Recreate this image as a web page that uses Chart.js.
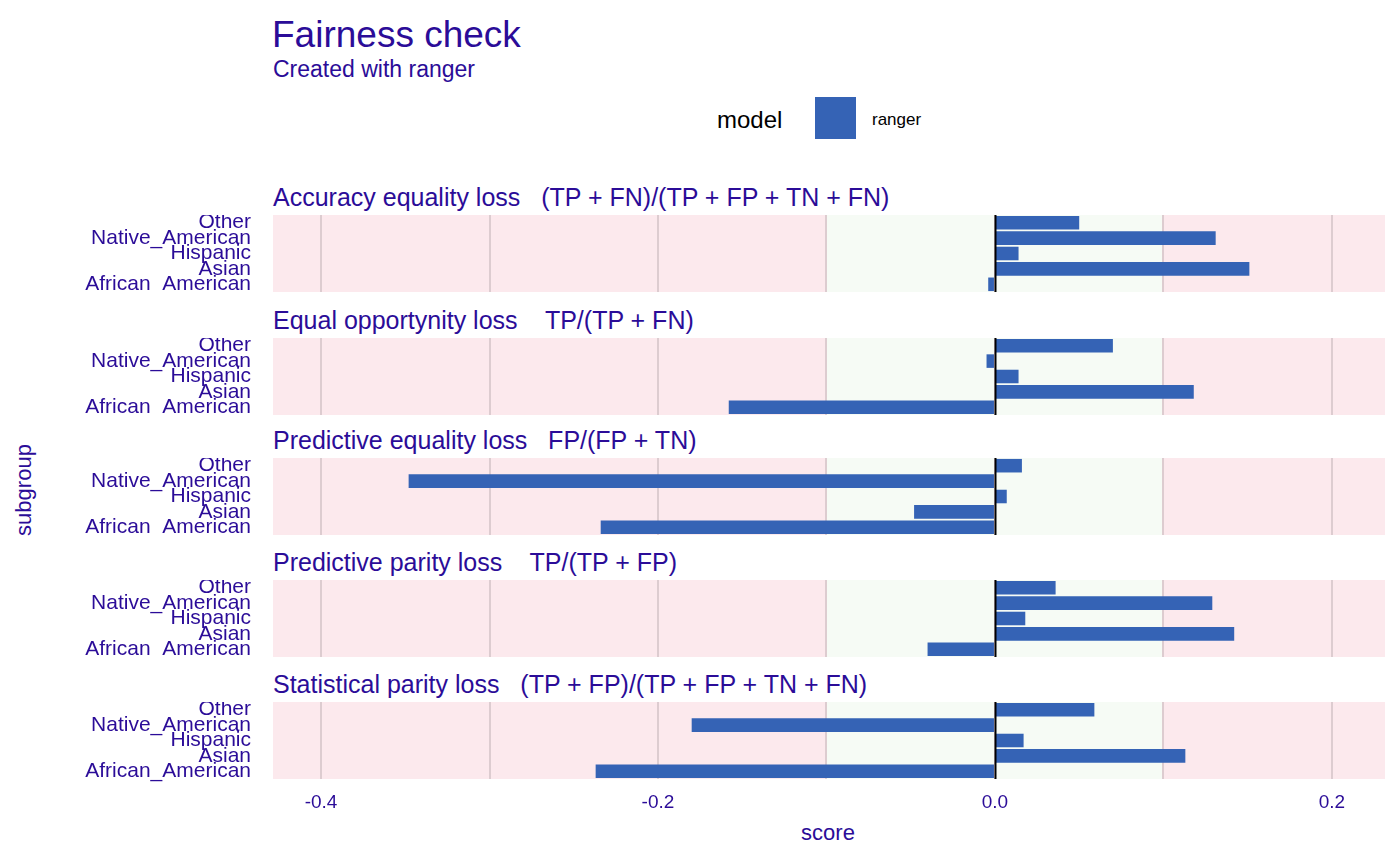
<!DOCTYPE html>
<html><head><meta charset="utf-8">
<script src="https://cdn.jsdelivr.net/npm/chart.js@4/dist/chart.umd.min.js"></script>
<style>
body{margin:0;background:#fff;font-family:"Liberation Sans",Arial,sans-serif;color:#2b0c98}
#wrap{position:relative;width:1400px;height:865px;overflow:hidden}
.t{position:absolute;white-space:pre}
canvas{position:absolute;left:0}
</style></head><body>
<div id="wrap">
  <div class="t" style="left:272px;top:14px;font-size:37px">Fairness check</div>
  <div class="t" style="left:273px;top:56px;font-size:23px">Created with ranger</div>
  <div class="t" style="left:717px;top:106px;font-size:24px;color:#000">model</div>
  <div class="t" style="left:815px;top:97px;width:41px;height:42px;background:#3563b5"></div>
  <div class="t" style="left:872px;top:110px;font-size:17px;color:#000">ranger</div>
  <div class="t" style="left:4px;top:490px;font-size:22px;transform:translate(0,-50%) rotate(-90deg);transform-origin:center;width:100px;text-align:center;margin-left:-30px">subgroup</div>
  <div class="t" style="left:828px;top:820px;font-size:22px;transform:translateX(-50%)">score</div>
</div>
<script>
// ── DATA ──
const subgroups = ['Other', 'Native_American', 'Hispanic', 'Asian', 'African_American'];
const metricTitles = [
  'Accuracy equality loss   (TP + FN)/(TP + FP + TN + FN)',
  'Equal opportynity loss    TP/(TP + FN)',
  'Predictive equality loss   FP/(FP + TN)',
  'Predictive parity loss    TP/(TP + FP)',
  'Statistical parity loss   (TP + FP)/(TP + FP + TN + FN)'
];
const accuracyLoss   = [0.050, 0.131, 0.014, 0.151, -0.004];
const opportunityLoss = [0.070, -0.005, 0.014, 0.118, -0.158];
const equalityLoss   = [0.016, -0.348, 0.007, -0.048, -0.234];
const parityLoss     = [0.036, 0.129, 0.018, 0.142, -0.040];
const statParityLoss = [0.059, -0.180, 0.017, 0.113, -0.237];
const tickValues = [-0.4, -0.2, 0.0, 0.2];

const allSeries = [accuracyLoss, opportunityLoss, equalityLoss, parityLoss, statParityLoss];
const panelTops = [215, 338, 458, 580, 702];
const panelH = 77;
const TXT = '#2b0c98';

// ── BACKGROUND BANDS ──
const bands = {
  id: 'bands',
  beforeDraw(chart) {
    const {ctx, chartArea: a, scales: {x}} = chart;
    const l = x.getPixelForValue(-0.1), r = x.getPixelForValue(0.1);
    ctx.save();
    ctx.fillStyle = '#fce9ed';
    ctx.fillRect(a.left, a.top, a.right - a.left, a.bottom - a.top);
    ctx.fillStyle = '#f6fbf5';
    ctx.fillRect(l, a.top, r - l, a.bottom - a.top);
    ctx.restore();
  }
};
const zeroLine = {
  id: 'zeroLine',
  afterDatasetsDraw(chart) {
    const {ctx, chartArea: a, scales: {x}} = chart;
    const z = Math.round(x.getPixelForValue(0)) + 0.5;
    ctx.save();
    ctx.strokeStyle = '#000'; ctx.lineWidth = 2;
    ctx.beginPath(); ctx.moveTo(z, a.top); ctx.lineTo(z, a.bottom); ctx.stroke();
    ctx.restore();
  }
};

const wrap = document.getElementById('wrap');
allSeries.forEach((vals, i) => {
  const last = i === allSeries.length - 1;
  const title = document.createElement('div');
  title.className = 't';
  title.style.cssText = `left:273px;top:${panelTops[i] - 32}px;font-size:25px`;
  title.textContent = metricTitles[i];
  wrap.appendChild(title);

  const cv = document.createElement('canvas');
  const h = panelH + (last ? 40 : 0);
  cv.width = 1400; cv.height = h;
  cv.style.top = panelTops[i] + 'px';
  wrap.appendChild(cv);

  new Chart(cv, {
    type: 'bar',
    data: {
      labels: subgroups,
      datasets: [{ data: vals, backgroundColor: '#3563b5', categoryPercentage: 1, barPercentage: 0.88 }]
    },
    options: {
      indexAxis: 'y',
      responsive: false,
      animation: false,
      layout: { padding: 0 },
      plugins: { legend: { display: false }, tooltip: { enabled: false } },
      scales: {
        x: {
          min: -0.4285, max: 0.2315,
          border: { display: false },
          grid: { color: '#ddccd0', lineWidth: 2, drawTicks: false },
          ticks: {
            display: last, stepSize: 0.1, includeBounds: false, padding: 12,
            color: TXT, font: { size: 19, family: 'Liberation Sans' },
            callback: v => tickValues.some(t => Math.abs(t - v) < 1e-6) ? v.toFixed(1) : ''
          },
          afterFit: s => {
            s.height = last ? 40 : 0;
            s.paddingLeft = 0; s.paddingRight = 15;
          }
        },
        y: {
          border: { display: false },
          grid: { display: false },
          ticks: { autoSkip: false, color: TXT, padding: 14, font: { size: 21, family: 'Liberation Sans' } },
          afterFit: s => {
            s.width = 273;
            s.paddingTop = 0; s.paddingBottom = 0;
          }
        }
      }
    },
    plugins: [bands, zeroLine]
  });
});
</script>
</body></html>
